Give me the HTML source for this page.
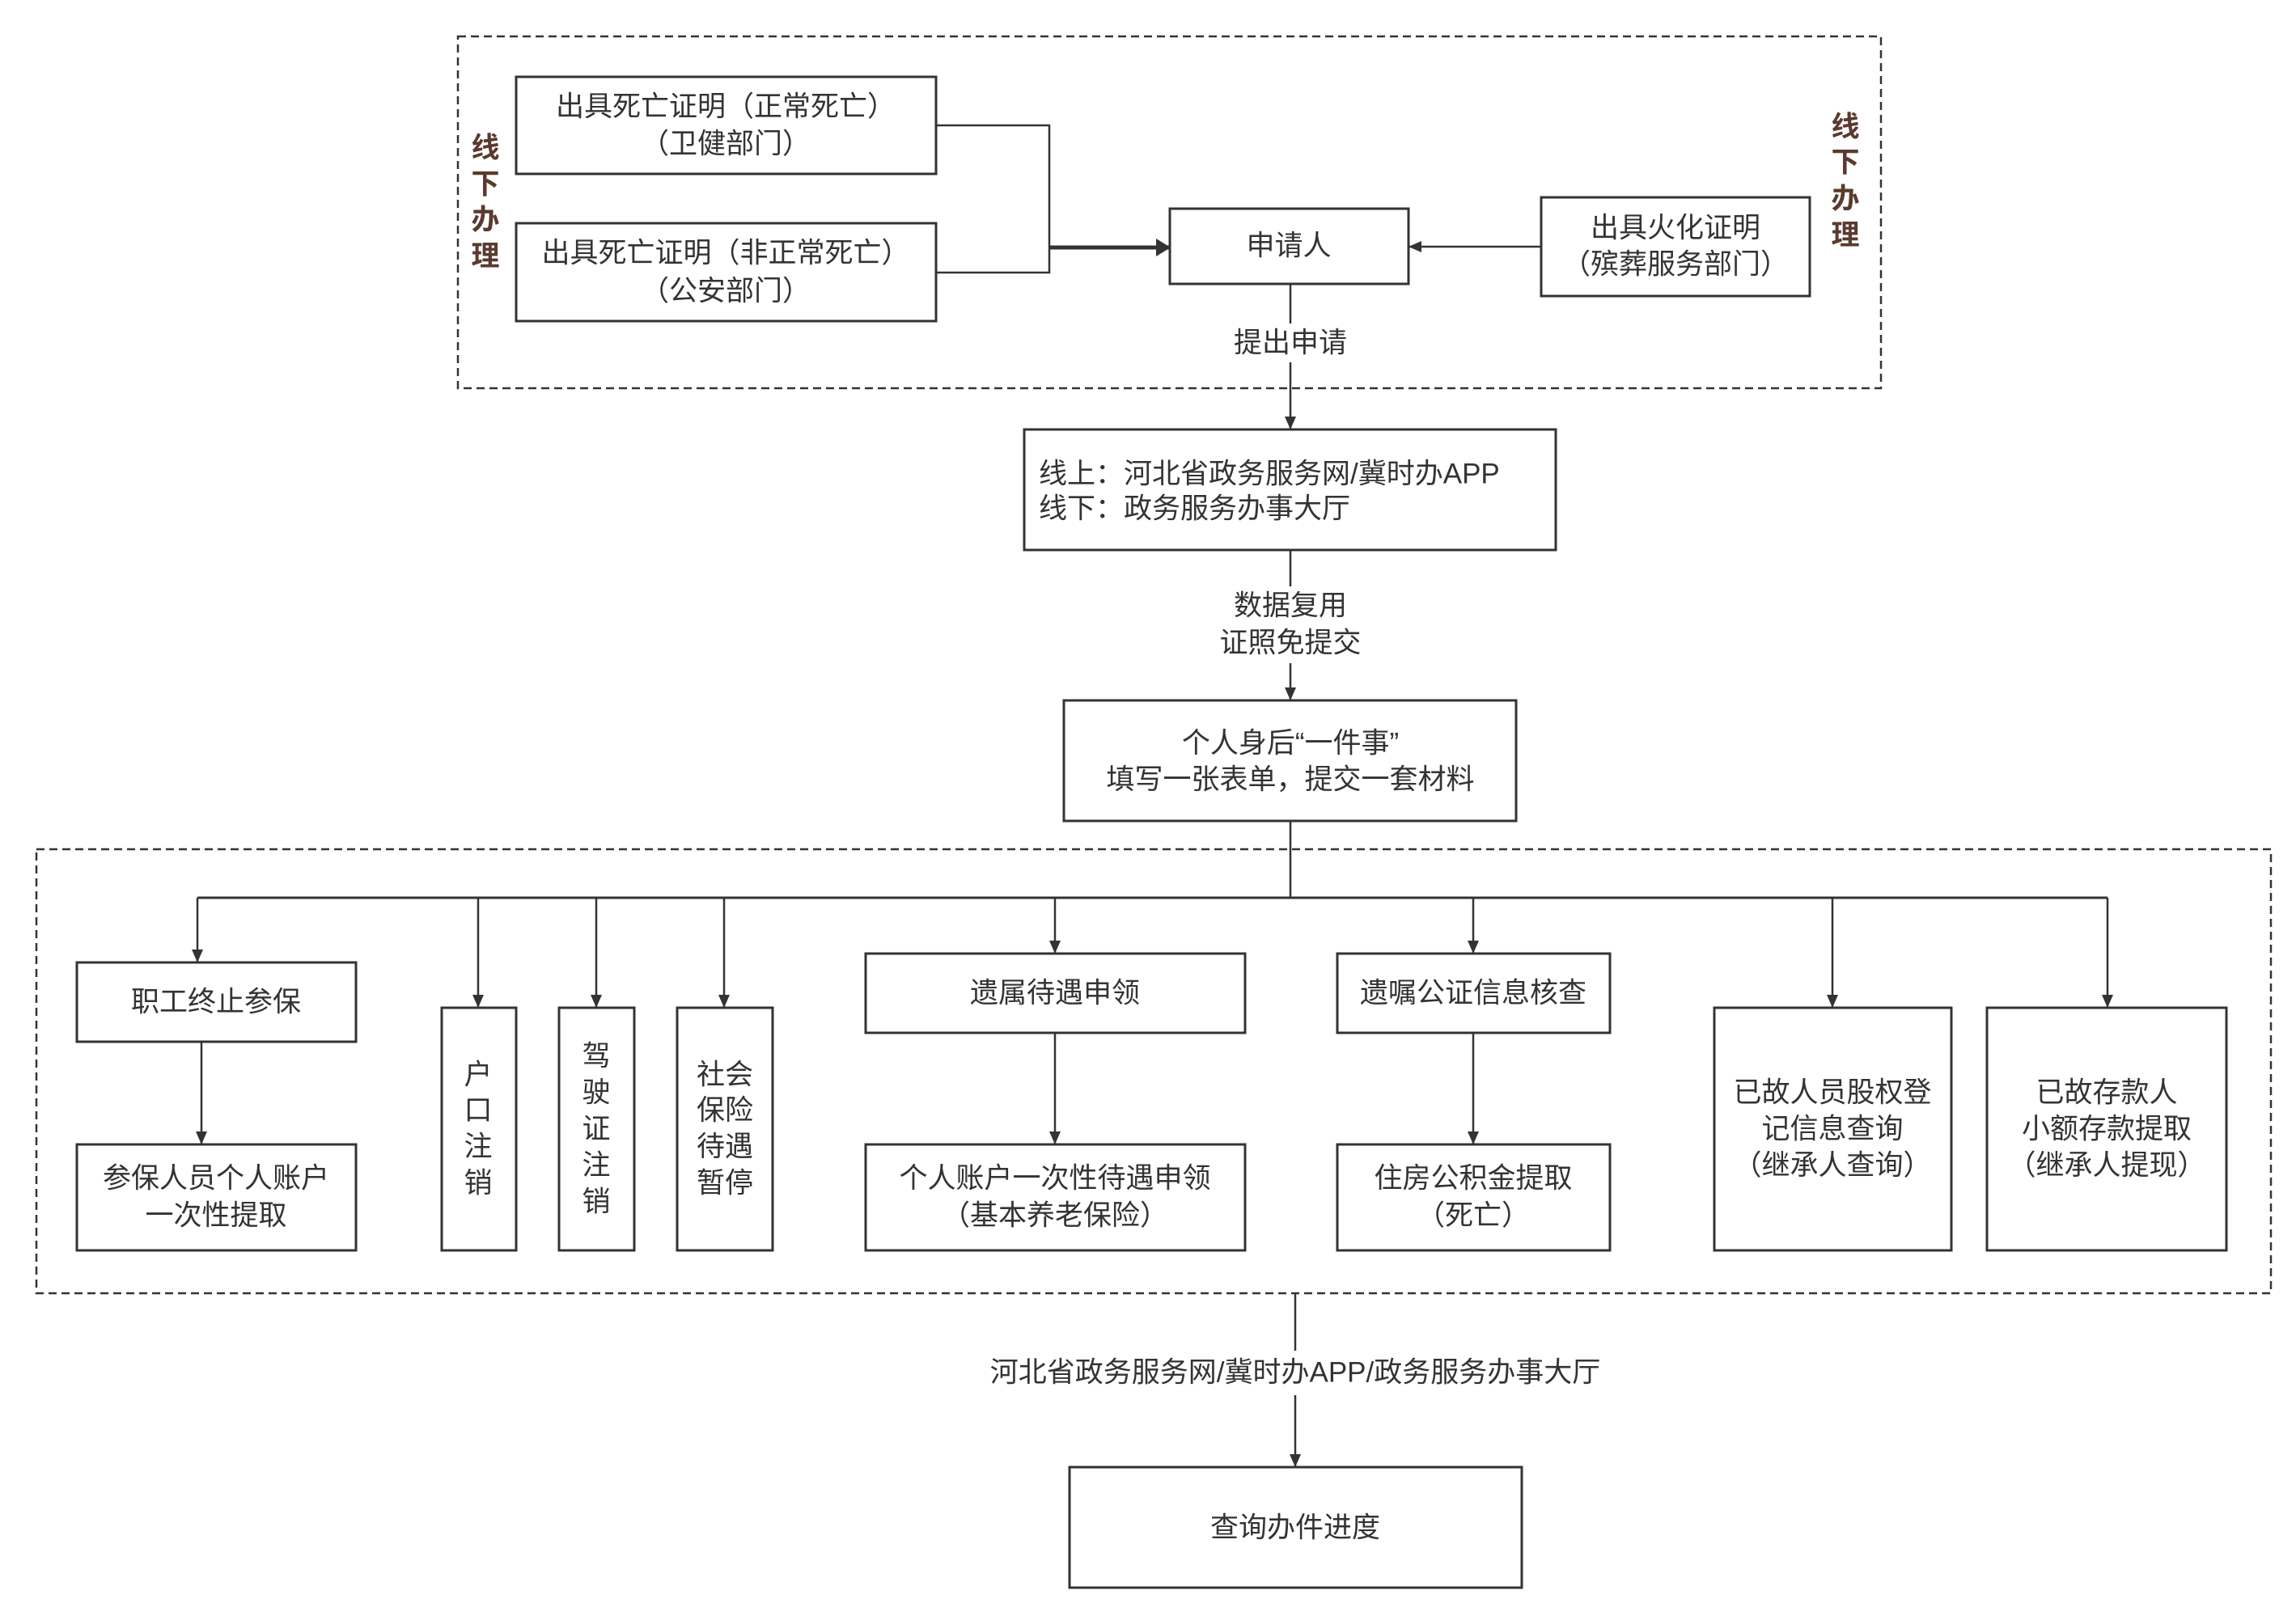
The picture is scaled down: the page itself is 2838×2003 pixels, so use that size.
<!DOCTYPE html>
<html><head><meta charset="utf-8"><style>
html,body{margin:0;padding:0;background:#fff}
text{font-family:"Liberation Sans","Noto Sans CJK SC",sans-serif;font-size:35px;fill:#333;text-anchor:middle;dominant-baseline:central}
</style></head><body>
<svg width="2838" height="1998" viewBox="0 0 2838 1998" xmlns="http://www.w3.org/2000/svg">
<defs><marker id="a" markerWidth="14" markerHeight="16" refX="16" refY="7" orient="auto" markerUnits="userSpaceOnUse"><path d="M0,0 L16,7 L0,14z" fill="#333"/></marker>
<marker id="b" markerWidth="18" markerHeight="22" refX="17" refY="11" orient="auto" markerUnits="userSpaceOnUse"><path d="M0,0 L18,11 L0,22z" fill="#333"/></marker></defs>
<g fill="none" stroke="#333" stroke-width="2.5" stroke-dasharray="10,6">
<rect x="566" y="45" width="1759" height="435"/>
<rect x="45" y="1050" width="2762" height="549"/>
</g>
<g fill="#fff" stroke="#333" stroke-width="3">
<rect x="638" y="95" width="519" height="120"/>
<rect x="638" y="276" width="519" height="121"/>
<rect x="1446" y="258" width="295" height="93"/>
<rect x="1905" y="244" width="332" height="122"/>
<rect x="1266" y="531" width="657" height="149"/>
<rect x="1315" y="866" width="559" height="149"/>
<rect x="95" y="1190" width="345" height="98"/>
<rect x="95" y="1415" width="345" height="131"/>
<rect x="546" y="1246" width="92" height="300"/>
<rect x="691" y="1246" width="93" height="300"/>
<rect x="837" y="1246" width="118" height="300"/>
<rect x="1070" y="1179" width="469" height="98"/>
<rect x="1070" y="1415" width="469" height="131"/>
<rect x="1653" y="1179" width="337" height="98"/>
<rect x="1653" y="1415" width="337" height="131"/>
<rect x="2119" y="1246" width="293" height="300"/>
<rect x="2456" y="1246" width="296" height="300"/>
<rect x="1322" y="1814" width="559" height="149"/>
</g>
<g fill="none" stroke="#333" stroke-width="2.5">
<polyline points="1157,155 1297,155 1297,337 1157,337"/>
<line x1="1297" y1="306" x2="1446" y2="306" stroke-width="5" marker-end="url(#b)"/>
<line x1="1905" y1="305" x2="1741" y2="305" marker-end="url(#a)"/>
<line x1="1595" y1="351" x2="1595" y2="400"/>
<line x1="1595" y1="448" x2="1595" y2="531" marker-end="url(#a)"/>
<line x1="1595" y1="680" x2="1595" y2="725"/>
<line x1="1595" y1="820" x2="1595" y2="866" marker-end="url(#a)"/>
<line x1="1595" y1="1015" x2="1595" y2="1110"/>
<line x1="244" y1="1110" x2="2605" y2="1110" stroke-width="3"/>
<line x1="244" y1="1110" x2="244" y2="1190" marker-end="url(#a)"/>
<line x1="591" y1="1110" x2="591" y2="1246" marker-end="url(#a)"/>
<line x1="737" y1="1110" x2="737" y2="1246" marker-end="url(#a)"/>
<line x1="895" y1="1110" x2="895" y2="1246" marker-end="url(#a)"/>
<line x1="1304" y1="1110" x2="1304" y2="1179" marker-end="url(#a)"/>
<line x1="1821" y1="1110" x2="1821" y2="1179" marker-end="url(#a)"/>
<line x1="2265" y1="1110" x2="2265" y2="1246" marker-end="url(#a)"/>
<line x1="2605" y1="1110" x2="2605" y2="1246" marker-end="url(#a)"/>
<line x1="249" y1="1288" x2="249" y2="1415" marker-end="url(#a)"/>
<line x1="1304" y1="1277" x2="1304" y2="1415" marker-end="url(#a)"/>
<line x1="1821" y1="1277" x2="1821" y2="1415" marker-end="url(#a)"/>
<line x1="1601" y1="1599" x2="1601" y2="1670"/>
<line x1="1601" y1="1725" x2="1601" y2="1814" marker-end="url(#a)"/>
</g>
<text x="897" y="132">出具死亡证明（正常死亡）</text>
<text x="897" y="178">（卫健部门）</text>
<text x="897" y="313">出具死亡证明（非正常死亡）</text>
<text x="897" y="360">（公安部门）</text>
<text x="1593" y="304">申请人</text>
<text x="2071" y="282">出具火化证明</text>
<text x="2071" y="327">（殡葬服务部门）</text>
<g><text x="600" y="183" style="fill:#5a3a2f;font-weight:bold">线</text><text x="600" y="228" style="fill:#5a3a2f;font-weight:bold">下</text><text x="600" y="272" style="fill:#5a3a2f;font-weight:bold">办</text><text x="600" y="317" style="fill:#5a3a2f;font-weight:bold">理</text>
<text x="2281" y="157" style="fill:#5a3a2f;font-weight:bold">线</text><text x="2281" y="201" style="fill:#5a3a2f;font-weight:bold">下</text><text x="2281" y="246" style="fill:#5a3a2f;font-weight:bold">办</text><text x="2281" y="291" style="fill:#5a3a2f;font-weight:bold">理</text></g>
<text x="1595" y="424">提出申请</text>
<text x="1284" y="586" style="text-anchor:start">线上：河北省政务服务网/冀时办APP</text>
<text x="1284" y="629" style="text-anchor:start">线下：政务服务办事大厅</text>
<text x="1595" y="749">数据复用</text>
<text x="1595" y="795">证照免提交</text>
<text x="1595" y="919">个人身后“一件事”</text>
<text x="1595" y="964">填写一张表单，提交一套材料</text>
<text x="267" y="1239">职工终止参保</text>
<text x="267" y="1457">参保人员个人账户</text>
<text x="267" y="1503">一次性提取</text>
<text x="591" y="1329">户</text><text x="591" y="1373">口</text><text x="591" y="1418">注</text><text x="591" y="1463">销</text>
<text x="737" y="1306">驾</text><text x="737" y="1351">驶</text><text x="737" y="1396">证</text><text x="737" y="1441">注</text><text x="737" y="1486">销</text>
<text x="896" y="1329">社会</text><text x="896" y="1373">保险</text><text x="896" y="1418">待遇</text><text x="896" y="1463">暂停</text>
<text x="1304" y="1228">遗属待遇申领</text>
<text x="1304" y="1457">个人账户一次性待遇申领</text>
<text x="1304" y="1503">（基本养老保险）</text>
<text x="1821" y="1228">遗嘱公证信息核查</text>
<text x="1821" y="1457">住房公积金提取</text>
<text x="1821" y="1503">（死亡）</text>
<text x="2265" y="1351">已故人员股权登</text>
<text x="2265" y="1396">记信息查询</text>
<text x="2265" y="1441">（继承人查询）</text>
<text x="2604" y="1351">已故存款人</text>
<text x="2604" y="1396">小额存款提取</text>
<text x="2604" y="1441">（继承人提现）</text>
<text x="1601" y="1697">河北省政务服务网/冀时办APP/政务服务办事大厅</text>
<text x="1601" y="1889">查询办件进度</text>
</svg>
</body></html>
